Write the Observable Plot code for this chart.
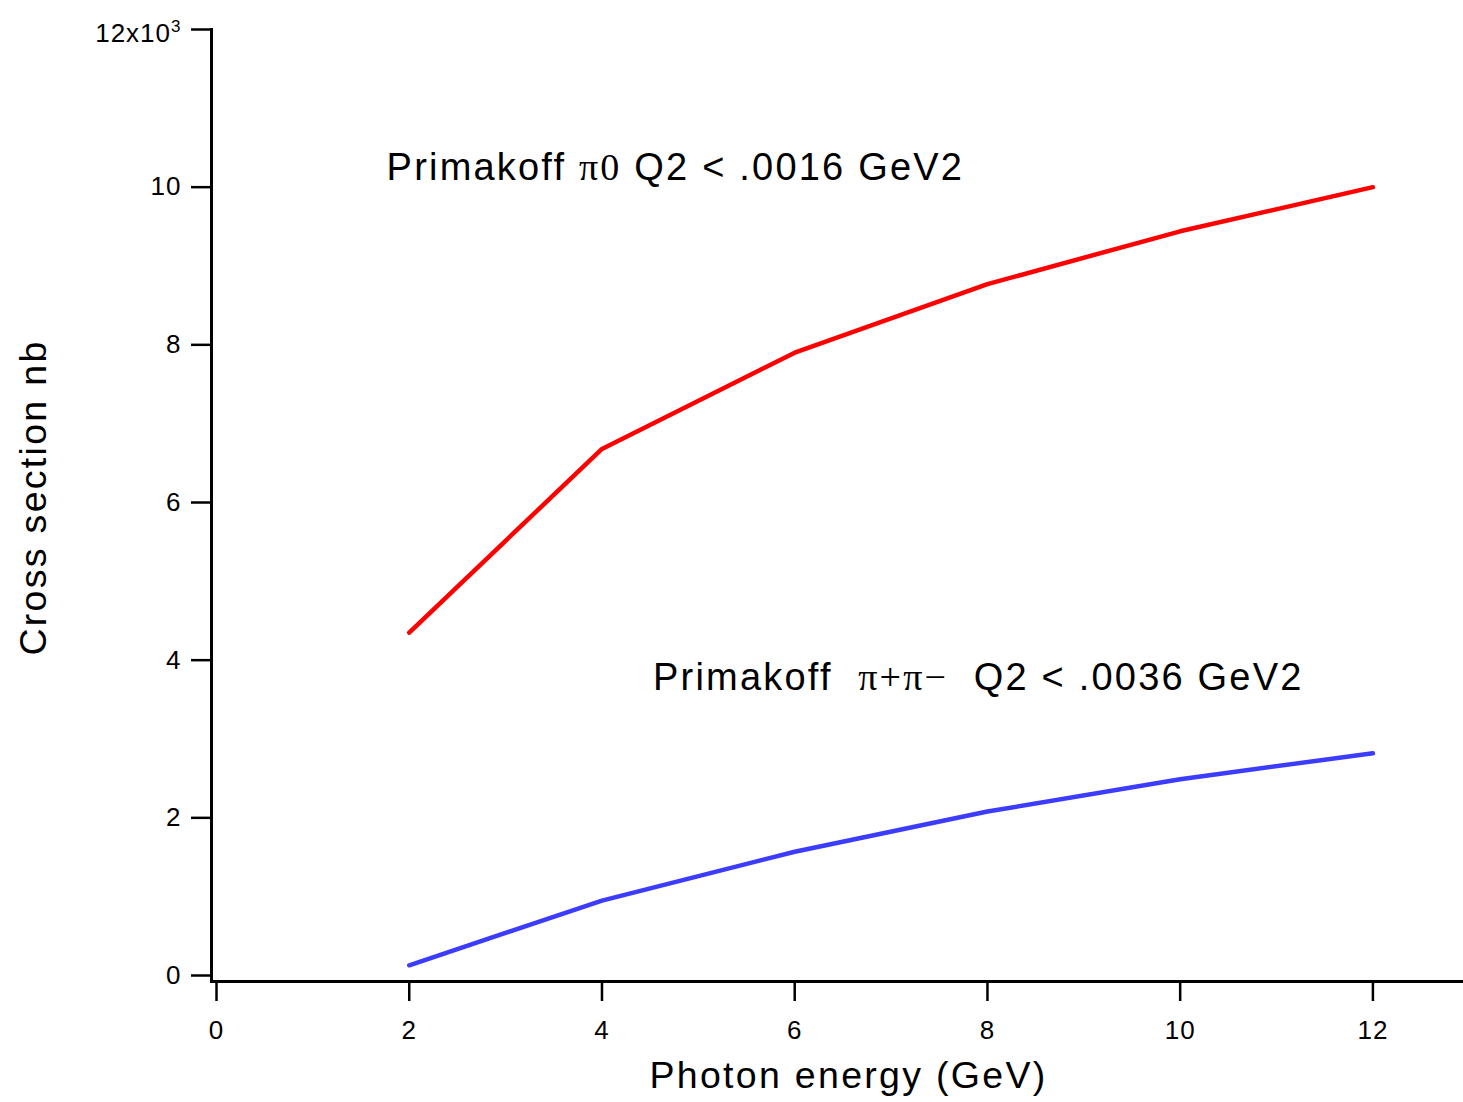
<!DOCTYPE html>
<html>
<head>
<meta charset="utf-8">
<script src="https://cdn.jsdelivr.net/npm/d3@7"></script>
<script src="https://cdn.jsdelivr.net/npm/@observablehq/plot@0.6"></script>
<style>
  html, body { margin: 0; padding: 0; background: #fff; }
  svg text { white-space: pre; }
</style>
</head>
<body>
<div id="chart"></div>
<script>
// Data (cross section in nb vs photon energy in GeV)
const energy = [2, 4, 6, 8, 10, 12];
const pi0 = [4350, 6680, 7900, 8770, 9440, 10000];
const pipi = [130, 950, 1570, 2080, 2490, 2820];
const seriesNames = ["pi0", "pipi"];
const seriesColors = ["#ff0000", "#3c3cff"];
const xTicks = [0, 2, 4, 6, 8, 10, 12];
const yTicks = [0, 2000, 4000, 6000, 8000, 10000, 12000];
const xLabel = "Photon energy (GeV)";
const yLabel = "Cross section nb";
// annotation parts: [text, serif?]
const annotParts = [
  [["Primakoff ", false], ["π0", true], [" Q2 < .0016 GeV2", false]],
  [["Primakoff  ", false], ["π+π−", true], ["  Q2 < .0036 GeV2", false]]
];
const annotX = [1.765, 4.53];
const annotY = [10240, 3770];

const rows = [];
energy.forEach((e, i) => {
  rows.push({series: seriesNames[0], e, v: pi0[i]});
  rows.push({series: seriesNames[1], e, v: pipi[i]});
});
const annots = annotParts.map((p, i) => ({x: annotX[i], y: annotY[i], text: p.map(d => d[0]).join("")}));

const sans = "'Liberation Sans', Arial, Helvetica, sans-serif";
const serif = "'Liberation Serif', 'Times New Roman', serif";

const plot = Plot.plot({
  width: 1463,
  height: 1102,
  marginLeft: 211,
  marginRight: 0,
  marginTop: 29,
  marginBottom: 121,
  style: {fontFamily: sans, background: "#fff", color: "#000", overflow: "visible"},
  x: {domain: [-0.052, 12.94]},
  y: {domain: [-76, 12000]},
  color: {domain: seriesNames, range: seriesColors},
  marks: [
    Plot.frame({anchor: "left", stroke: "#000", strokeWidth: 3}),
    Plot.frame({anchor: "bottom", stroke: "#000", strokeWidth: 3}),
    Plot.axisY({ticks: yTicks, tickSize: 20, tickPadding: 10, fontSize: 26, strokeWidth: 2.5,
      tickFormat: d => d === 12000 ? "12x10³" : String(d / 1000), label: null, className: "yax"}),
    Plot.axisX({ticks: xTicks, tickSize: 20, tickPadding: 19, fontSize: 26, strokeWidth: 2.5,
      tickFormat: d => String(d), label: null, className: "xax"}),
    Plot.line(rows, {x: "e", y: "v", z: "series", stroke: "series", strokeWidth: 4.5, strokeLinejoin: "round"}),
    Plot.text(annots, {x: "x", y: "y", text: "text", textAnchor: "start", fontSize: 38, fill: "#000", className: "annot"}),
    Plot.text([xLabel], {frameAnchor: "bottom", textAnchor: "middle", text: d => d, fontSize: 37.5, dy: 106, dx: 11, fill: "#000", className: "xlab"}),
    Plot.text([yLabel], {frameAnchor: "left", textAnchor: "middle", text: d => d, fontSize: 37.5, rotate: -90, dx: -178, dy: -8, fill: "#000", className: "ylab"})
  ]
});

const root = d3.select(plot);
// slight letter spacing to match the wide typeface of the original
root.selectAll(".yax text, .xax text").style("letter-spacing", "1px");
root.selectAll(".xlab text, .ylab text").style("letter-spacing", "2.3px");
root.selectAll(".annot text").style("letter-spacing", "2.2px");

// superscript exponent on the top tick
root.selectAll(".yax text").each(function() {
  const t = d3.select(this);
  if (t.text() === "12x10³") {
    t.text(null);
    t.append("tspan").text("12x10").attr("dy", "4");
    t.append("tspan").text("3").attr("font-size", 17).attr("dy", "-0.6em");
  }
});

// rebuild annotation text with serif Greek parts
root.selectAll(".annot text").each(function(_, i) {
  const t = d3.select(this);
  t.text(null);
  annotParts[i].forEach(([s, isSerif]) => {
    t.append("tspan").text(s).attr("font-family", isSerif ? serif : sans);
  });
});

document.getElementById("chart").appendChild(plot);
</script>
</body>
</html>
